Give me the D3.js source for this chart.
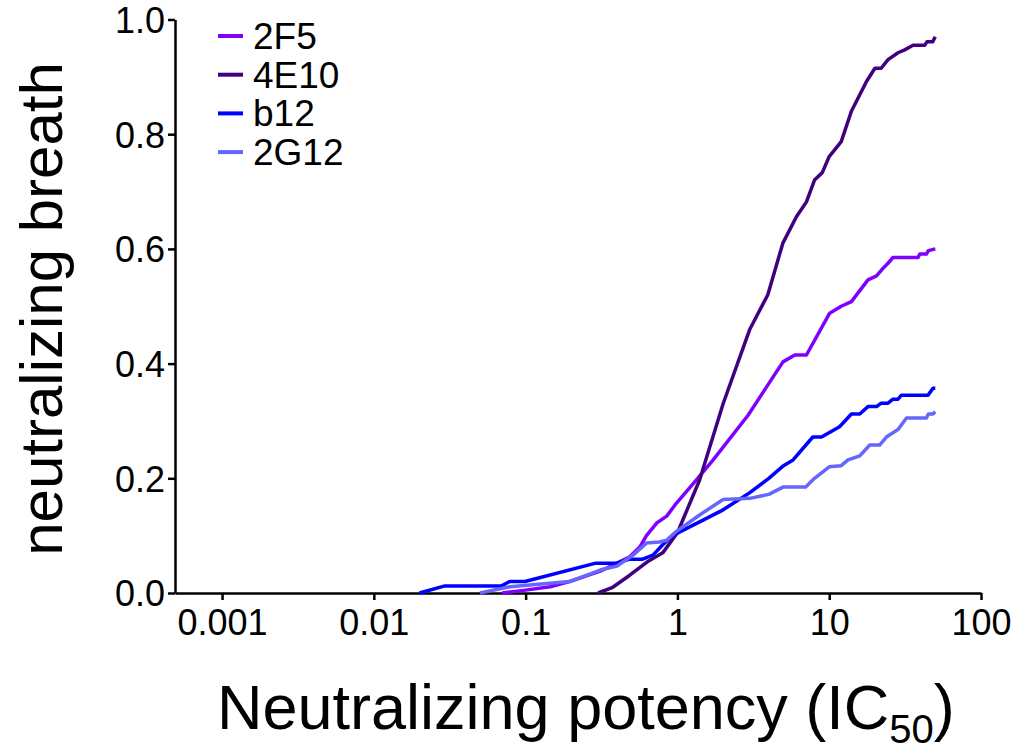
<!DOCTYPE html>
<html><head><meta charset="utf-8">
<script src="https://cdn.jsdelivr.net/npm/d3@7"></script>
<style>
html,body{margin:0;padding:0;background:#fff;}
svg{display:block;font-family:"Liberation Sans",Arial,sans-serif;}
</style></head>
<body>
<svg id="chart" width="1019" height="751"></svg>
<script>
// ---- data ----
const seriesNames = ["2F5", "4E10", "b12", "2G12"];
const seriesColors = ["#8000ff", "#400080", "#0000ff", "#6666ff"];

const x2F5 = [0.07, 0.1, 0.145, 0.195, 0.31, 0.485, 0.565, 0.625, 0.73, 0.85, 0.98, 1.33, 1.72, 2.92, 4.96, 5.93, 7.08, 10.07, 12, 14, 18, 20.5, 22.6, 24.4, 26.3, 38.5, 39.5, 43.7, 45, 50];
const y2F5 = [0, 0.005, 0.011, 0.02, 0.038, 0.063, 0.08, 0.1, 0.122, 0.134, 0.156, 0.197, 0.232, 0.31, 0.403, 0.415, 0.415, 0.488, 0.5, 0.508, 0.546, 0.553, 0.566, 0.575, 0.585, 0.585, 0.591, 0.591, 0.597, 0.6];

const x4E10 = [0.3, 0.375, 0.485, 0.63, 0.8, 1.0, 1.4, 2, 3, 3.94, 4.95, 6.08, 7.08, 8, 9, 10, 12, 14, 17.6, 20, 22, 24.4, 28.4, 31.4, 35.7, 42.6, 44, 48, 50];
const y4E10 = [0, 0.01, 0.031, 0.054, 0.07, 0.105, 0.197, 0.33, 0.46, 0.52, 0.61, 0.656, 0.682, 0.72, 0.733, 0.761, 0.787, 0.84, 0.892, 0.915, 0.915, 0.93, 0.942, 0.947, 0.955, 0.955, 0.961, 0.961, 0.97];

const xb12 = [0.02, 0.029, 0.069, 0.0785, 0.099, 0.29, 0.4, 0.485, 0.59, 0.69, 0.8, 0.94, 1.4, 2, 3, 4, 5, 5.78, 7.8, 8.9, 11.7, 14, 15.9, 18, 20.5, 22, 24.4, 26.3, 28.4, 29.9, 44.8, 48.3, 50];
const yb12 = [0, 0.012, 0.012, 0.02, 0.02, 0.052, 0.052, 0.059, 0.059, 0.066, 0.084, 0.101, 0.124, 0.145, 0.175, 0.2, 0.222, 0.232, 0.272, 0.272, 0.29, 0.312, 0.312, 0.325, 0.325, 0.331, 0.331, 0.338, 0.338, 0.345, 0.345, 0.357, 0.357];

const x2G12 = [0.05, 0.079, 0.195, 0.31, 0.4, 0.51, 0.625, 0.76, 0.85, 0.98, 1.4, 2, 3, 4, 5, 7, 8, 10, 12, 13.3, 15.9, 18.5, 21.5, 23.8, 28.4, 32.3, 43.7, 45, 48, 50];
const y2G12 = [0, 0.011, 0.02, 0.04, 0.047, 0.066, 0.087, 0.089, 0.092, 0.107, 0.136, 0.163, 0.165, 0.172, 0.185, 0.185, 0.2, 0.22, 0.222, 0.232, 0.239, 0.258, 0.258, 0.272, 0.285, 0.305, 0.305, 0.312, 0.312, 0.316];

const xTickValues = [0.001, 0.01, 0.1, 1, 10, 100];
const xTickLabels = ["0.001", "0.01", "0.1", "1", "10", "100"];
const yTickValues = [0, 0.2, 0.4, 0.6, 0.8, 1.0];
const yTickLabels = ["0.0", "0.2", "0.4", "0.6", "0.8", "1.0"];

const seriesX = [x2F5, x4E10, xb12, x2G12];
const seriesY = [y2F5, y4E10, yb12, y2G12];

// ---- drawing ----
(function () {
const svg = d3.select("#chart");
const pLeft = 175, pRight = 981, pTop = 19.5, pBottom = 593;

const x = d3.scaleLog().domain([Math.pow(10, -3.31), 100]).range([pLeft, pRight]);
const y = d3.scaleLinear().domain([0, 1]).range([pBottom, pTop]);

const xAxis = d3.axisBottom(x)
  .tickValues(xTickValues)
  .tickFormat((d, i) => xTickLabels[i])
  .tickSizeInner(7).tickSizeOuter(0).tickPadding(9);
const gx = svg.append("g").attr("transform", `translate(0,${pBottom})`).call(xAxis);
gx.selectAll("text").attr("font-size", 36).attr("fill", "#000").attr("font-family", "Liberation Sans, Arial, sans-serif");
gx.selectAll("line,path").attr("stroke", "#000").attr("stroke-width", 2.5);

const yAxis = d3.axisLeft(y)
  .tickValues(yTickValues)
  .tickFormat((d, i) => yTickLabels[i])
  .tickSizeInner(7).tickSizeOuter(0).tickPadding(3);
const gy = svg.append("g").attr("transform", `translate(${pLeft},0)`).call(yAxis);
gy.selectAll("text").attr("font-size", 36).attr("fill", "#000").attr("dy", "0.36em").attr("font-family", "Liberation Sans, Arial, sans-serif");
gy.selectAll("line,path").attr("stroke", "#000").attr("stroke-width", 2.5);

const line = d3.line().x(d => x(d[0])).y(d => y(d[1]));
seriesNames.forEach((name, i) => {
  const pts = seriesX[i].map((v, j) => [v, seriesY[i][j]]);
  svg.append("path")
    .datum(pts)
    .attr("d", line)
    .attr("fill", "none")
    .attr("stroke", seriesColors[i])
    .attr("stroke-width", 3.5)
    .attr("stroke-linejoin", "round");
});

// legend
const legend = svg.append("g");
seriesNames.forEach((name, i) => {
  const ly = 36 + i * 38.7;
  legend.append("line")
    .attr("x1", 218).attr("x2", 243).attr("y1", ly).attr("y2", ly)
    .attr("stroke", seriesColors[i]).attr("stroke-width", 4);
  legend.append("text")
    .attr("x", 253).attr("y", ly + 13)
    .attr("font-size", 37).attr("fill", "#000")
    .text(name);
});

// axis titles
const xt = svg.append("text")
  .attr("x", 217).attr("y", 729)
  .attr("font-size", 63).attr("fill", "#000");
xt.append("tspan").text("Neutralizing potency (IC");
xt.append("tspan").attr("font-size", 40).attr("dy", 14).text("50");
xt.append("tspan").attr("dy", -14).text(")");

svg.append("text")
  .attr("transform", "translate(62,309) rotate(-90)")
  .attr("text-anchor", "middle")
  .attr("font-size", 60).attr("fill", "#000")
  .text("neutralizing breath");
})();
</script>
</body></html>
